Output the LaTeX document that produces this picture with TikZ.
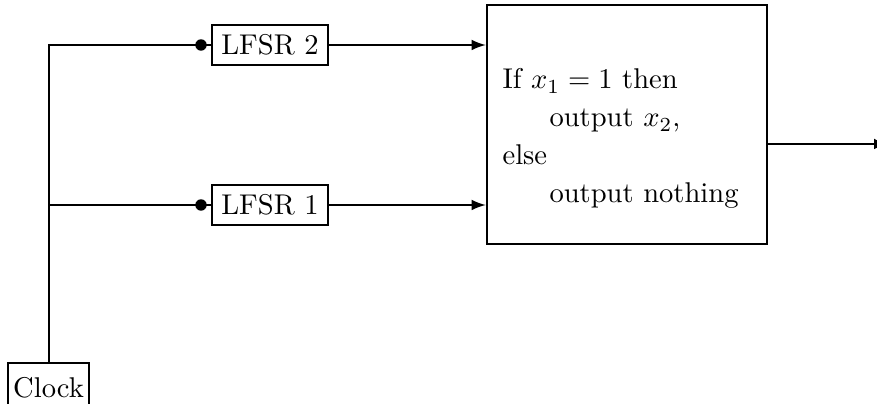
\documentclass[tikz,border=0pt]{standalone}
\usetikzlibrary{arrows}
\begin{document}
\begin{tikzpicture}[x=0.35pt,y=-0.35pt,
  reg/.style={draw,line width=0.9pt,inner sep=3.33pt,minimum width=40.6pt,minimum height=14pt},
  conn/.style={line width=0.7pt},
  txt/.style={anchor=base west,inner sep=0pt}]
\useasboundingbox (0,0) rectangle (877,404);
\node[draw,line width=0.9pt,minimum width=28.4pt,minimum height=17.5pt,inner sep=1.5pt] (clock) at (48.5,388) {Clock};
\node[reg] (l2) at (270,45) {LFSR 2};
\node[reg] (l1) at (270,205) {LFSR 1};
\node[draw,line width=0.9pt,minimum width=98pt,minimum height=83.6pt,inner sep=0pt] (logic) at (627,124.5) {};
\node[txt] (t1) at (502,89) {If $x_1 = 1$ then};
\node[txt] (t2) at (549,127) {output $x_2$,};
\node[txt] (t3) at (502,165) {else};
\node[txt] (t4) at (549,203) {output nothing};
\coordinate (top) at (49,45);
\coordinate (mid) at (49,205);
\coordinate (d2) at (201,45);
\coordinate (d1) at (201,205);
\coordinate (out) at (888,144);
\draw[conn] (clock.north -| top) -- (top) -- (d2) -- (l2.west);
\draw[conn] (mid) -- (d1) -- (l1.west);
\fill (d2) circle (2pt);
\fill (d1) circle (2pt);
\draw[conn,-latex] (l2.east) -- (l2.east -| logic.west);
\draw[conn,-latex] (l1.east) -- (l1.east -| logic.west);
\draw[conn,-latex] (logic.east |- out) -- (out);
\end{tikzpicture}
\end{document}
